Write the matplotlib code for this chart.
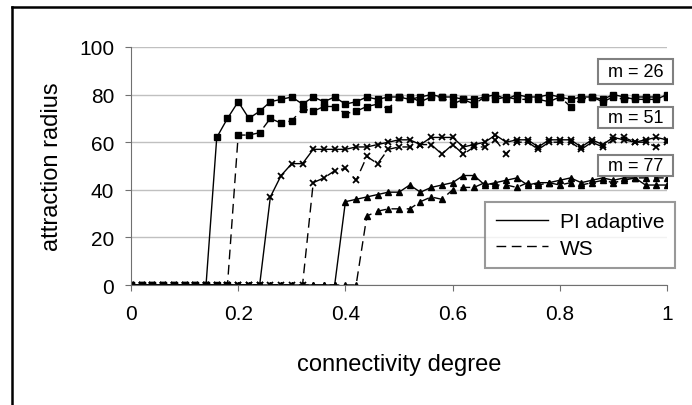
import matplotlib
matplotlib.use("Agg")
from matplotlib import pyplot as plt
from matplotlib.lines import Line2D
from matplotlib.patches import Rectangle

plt.rcParams['font.family'] = ['Liberation Sans', 'DejaVu Sans']

# connectivity degree, step 0.02
x = [0.00, 0.02, 0.04, 0.06, 0.08, 0.10, 0.12, 0.14, 0.16, 0.18,
     0.20, 0.22, 0.24, 0.26, 0.28, 0.30, 0.32, 0.34, 0.36, 0.38,
     0.40, 0.42, 0.44, 0.46, 0.48, 0.50, 0.52, 0.54, 0.56, 0.58,
     0.60, 0.62, 0.64, 0.66, 0.68, 0.70, 0.72, 0.74, 0.76, 0.78,
     0.80, 0.82, 0.84, 0.86, 0.88, 0.90, 0.92, 0.94, 0.96, 0.98, 1.00]

# attraction radius, PI adaptive (solid) and WS (dashed)
pi26 = [0, 0, 0, 0, 0, 0, 0, 0, 62, 70,
        77, 70, 73, 77, 78, 79, 76, 79, 77, 79,
        76, 77, 79, 78, 79, 79, 78, 79, 80, 79,
        79, 78, 78, 79, 80, 78, 80, 79, 79, 80,
        79, 78, 79, 79, 78, 80, 79, 78, 78, 78, 80]
ws26 = [0, 0, 0, 0, 0, 0, 0, 0, 0, 0,
        63, 63, 64, 70, 68, 69, 74, 73, 75, 75,
        72, 73, 75, 76, 74, 79, 79, 77, 79, 79,
        76, 78, 76, 79, 78, 79, 78, 78, 78, 77,
        79, 75, 78, 79, 77, 79, 78, 79, 79, 79, 79]
pi51 = [0, 0, 0, 0, 0, 0, 0, 0, 0, 0,
        0, 0, 0, 37, 46, 51, 51, 57, 57, 57,
        57, 58, 58, 59, 60, 61, 61, 59, 62, 62,
        62, 58, 59, 60, 63, 60, 61, 61, 58, 61,
        61, 61, 58, 61, 59, 62, 61, 60, 61, 62, 61]
ws51 = [0, 0, 0, 0, 0, 0, 0, 0, 0, 0,
        0, 0, 0, 0, 0, 0, 0, 43, 45, 48,
        49, 44, 54, 51, 57, 58, 58, 59, 59, 55,
        59, 55, 58, 58, 61, 55, 60, 60, 57, 60,
        60, 60, 57, 60, 58, 61, 62, 60, 60, 58, 60]
pi77 = [0, 0, 0, 0, 0, 0, 0, 0, 0, 0,
        0, 0, 0, 0, 0, 0, 0, 0, 0, 0,
        35, 36, 37, 38, 39, 39, 42, 39, 41, 42,
        43, 46, 46, 42, 43, 44, 45, 42, 43, 43,
        44, 45, 43, 44, 45, 44, 45, 45, 42, 42, 42]
ws77 = [0, 0, 0, 0, 0, 0, 0, 0, 0, 0,
        0, 0, 0, 0, 0, 0, 0, 0, 0, 0,
        0, 0, 29, 31, 32, 32, 32, 35, 37, 36,
        40, 41, 41, 43, 42, 42, 41, 43, 42, 43,
        42, 43, 42, 43, 44, 43, 44, 45, 45, 45, 45]

m_labels = ['m = 26', 'm = 51', 'm = 77']

W, H = 692, 406
fig = plt.figure(figsize=(6.92, 4.06), dpi=100)
ax = fig.add_axes([131/W, 1-286/H, 536/W, 238/H])

dash = (7, 4)
ax.plot(x, pi26, c='black', lw=1, marker='s', ms=4)
ax.plot(x, ws26, c='black', lw=1, dashes=dash, marker='s', ms=4)
ax.plot(x, pi51, c='black', lw=1, marker='x', ms=4.5, mew=1.3)
ax.plot(x, ws51, c='black', lw=1, dashes=dash, marker='x', ms=4.5, mew=1.3)
ax.plot(x, pi77, c='black', lw=1, marker='^', ms=4)
ax.plot(x, ws77, c='black', lw=1, dashes=dash, marker='^', ms=4)

ax.set_xlim(0, 1)
ax.set_ylim(0, 100)
ax.set_xticks([0, 0.2, 0.4, 0.6, 0.8, 1])
ax.set_xticklabels(['0', '0.2', '0.4', '0.6', '0.8', '1'])
ax.set_yticks([0, 20, 40, 60, 80, 100])
ax.yaxis.grid(True, color='#c0c0c0', lw=1)
ax.set_axisbelow(True)
for s in ['top', 'right']:
    ax.spines[s].set_visible(False)
for s in ['left', 'bottom']:
    ax.spines[s].set_color('#707070')
ax.tick_params(axis='both', labelsize=15, direction='out', length=4, color='#707070')
ax.tick_params(axis='x', pad=10)
ax.tick_params(axis='y', pad=8)

ax.set_xlabel('connectivity degree', fontsize=17)
ax.set_ylabel('attraction radius', fontsize=17)
ax.xaxis.label.set_va('center')
ax.yaxis.label.set_va('center')
ax.xaxis.set_label_coords(0.5, -0.33)
ax.yaxis.set_label_coords((52-131)/536, 0.5)

handles = [Line2D([], [], c='black', lw=1),
           Line2D([], [], c='black', lw=1, dashes=dash)]
leg = fig.legend(handles, ['PI adaptive', 'WS'], loc='upper right',
                 bbox_to_anchor=(675/W, 1-203/H),
                 fontsize=15, frameon=True, fancybox=False, handlelength=2.5,
                 handletextpad=0.6, labelspacing=0.35, borderpad=0.5, borderaxespad=0)
leg.get_frame().set_edgecolor('#808080')
leg.get_frame().set_linewidth(1.5)

# series name boxes at the right edge
for lab, (y0, y1) in zip(m_labels, [(60, 85), (108, 129), (156, 177)]):
    fig.patches.append(Rectangle((598/W, 1-y1/H), 75/W, (y1-y0)/H, transform=fig.transFigure,
                                 fc='white', ec='#808080', lw=1.5, zorder=5))
    fig.text(635.5/W, 1-(y0+y1)/2/H, lab, fontsize=13, ha='center', va='center', zorder=6)

# chart border (top and left visible)
fig.add_artist(Line2D([12/W, 12/W], [0, 1-8/H], c='black', lw=1.8, transform=fig.transFigure))
fig.add_artist(Line2D([12/W, 1], [1-8/H, 1-8/H], c='black', lw=1.8, transform=fig.transFigure))

fig.savefig('out.png', dpi=100)
